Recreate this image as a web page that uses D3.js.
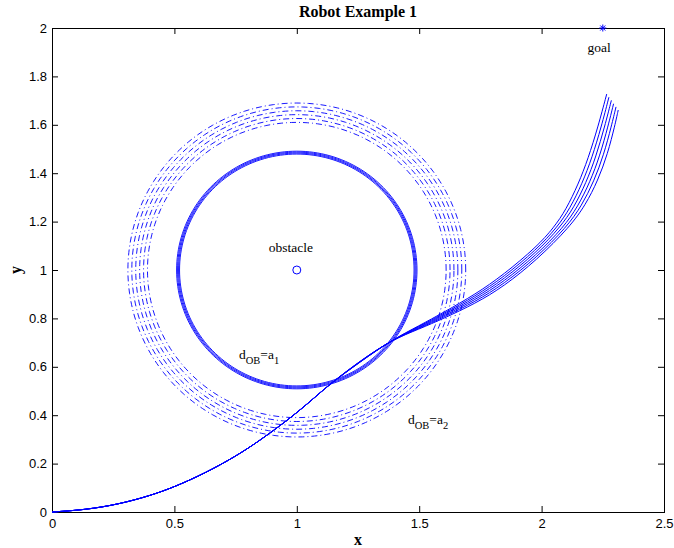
<!DOCTYPE html>
<html>
<head>
<meta charset="utf-8">
<script src="https://cdn.jsdelivr.net/npm/d3@7"></script>
<style>
  html, body { margin: 0; padding: 0; background: #fff; }
  svg { display: block; }
</style>
</head>
<body>
<svg id="chart" width="674" height="548"></svg>
<script>
// ---------- data ----------
const title = "Robot Example 1";
const xLabel = "x";
const yLabel = "y";
const xTicks = [0, 0.5, 1, 1.5, 2, 2.5];
const yTicks = [0, 0.2, 0.4, 0.6, 0.8, 1, 1.2, 1.4, 1.6, 1.8, 2];

const obstacle = [1, 1];
const goal = [2.25, 2];

// radii of the solid contours d_OB = a1
const innerRadii = [0.479, 0.483, 0.487, 0.491];
// radii of the dash-dot contours d_OB = a2
const outerRadii = [0.610, 0.626, 0.642, 0.658, 0.674, 0.690];

// common approach path from the origin
const approach = [[0, 0], [0.136, 0.009], [0.272, 0.032], [0.4, 0.067], [0.504, 0.105],
  [0.626, 0.161], [0.749, 0.229], [0.844, 0.292], [0.953, 0.372], [1.05, 0.452], [1.13, 0.525]];

const trajA = [[1.26, 0.621], [1.388, 0.711], [1.5, 0.77], [1.6, 0.825], [1.73, 0.9], [1.844, 0.98],
  [1.98, 1.096], [2.05, 1.175], [2.1, 1.25], [2.15, 1.355], [2.19, 1.46], [2.23, 1.59], [2.266, 1.727]];
const trajB = [[1.26, 0.622], [1.388, 0.711], [1.5, 0.7672], [1.6, 0.820], [1.73, 0.8924], [1.844, 0.9702],
  [1.98, 1.085], [2.063, 1.176], [2.116, 1.254], [2.166, 1.358], [2.206, 1.464], [2.244, 1.592], [2.275, 1.714]];
const trajC = [[1.26, 0.623], [1.388, 0.711], [1.5, 0.7644], [1.6, 0.815], [1.73, 0.8848], [1.844, 0.9604],
  [1.98, 1.074], [2.076, 1.177], [2.132, 1.258], [2.182, 1.361], [2.222, 1.468], [2.258, 1.594], [2.285, 1.701]];
const trajD = [[1.26, 0.624], [1.388, 0.711], [1.5, 0.7616], [1.6, 0.810], [1.73, 0.8772], [1.844, 0.9506],
  [1.98, 1.063], [2.090, 1.177], [2.148, 1.262], [2.198, 1.364], [2.238, 1.472], [2.272, 1.596], [2.294, 1.687]];
const trajE = [[1.26, 0.625], [1.388, 0.711], [1.5, 0.7588], [1.6, 0.805], [1.73, 0.8696], [1.844, 0.9408],
  [1.98, 1.052], [2.103, 1.178], [2.164, 1.266], [2.214, 1.367], [2.254, 1.476], [2.286, 1.598], [2.304, 1.674]];
const trajF = [[1.26, 0.626], [1.388, 0.711], [1.5, 0.756], [1.6, 0.80], [1.73, 0.862], [1.844, 0.931],
  [1.98, 1.041], [2.116, 1.179], [2.18, 1.27], [2.23, 1.37], [2.27, 1.48], [2.30, 1.6], [2.313, 1.661]];
const trajectories = [trajA, trajB, trajC, trajD, trajE, trajF];

const labels = [
  { text: "obstacle", x: 0.976, y: 1.074, anchor: "middle" },
  { text: "goal", x: 2.235, y: 1.90, anchor: "middle" }
];
const contourLabels = [
  { sub1: "OB", main: "=a", sub2: "1", x: 0.764, y: 0.631 },
  { sub1: "OB", main: "=a", sub2: "2", x: 1.454, y: 0.364 }
];

// ---------- layout ----------
const margin = { left: 52, right: 10, top: 28, bottom: 36 };
const W = 674, H = 548;
const svg = d3.select("#chart");
const x = d3.scaleLinear().domain([0, 2.5]).range([margin.left, W - margin.right]);
const y = d3.scaleLinear().domain([0, 2]).range([H - margin.bottom, margin.top]);
const blue = "#0000ff";
const tickFont = "'Liberation Sans', Arial, Helvetica, sans-serif";
const serif = "'Liberation Serif', 'Times New Roman', Times, serif";

// ---------- axes ----------
function styleAxis(g) {
  g.select(".domain").remove();
  g.selectAll(".tick line").attr("stroke", "#000").attr("stroke-width", 1);
  g.selectAll(".tick text").attr("fill", "#000").style("font-family", tickFont).style("font-size", "13px");
}
const bottom = y(0), topY = y(2), leftX = x(0), rightX = x(2.5);
svg.append("g").attr("transform", `translate(0,${bottom})`)
  .call(d3.axisBottom(x).tickValues(xTicks).tickSize(-6).tickPadding(7).tickFormat(d3.format("")))
  .call(styleAxis);
svg.append("g").attr("transform", `translate(0,${topY})`)
  .call(d3.axisTop(x).tickValues(xTicks).tickSize(-6).tickFormat(""))
  .call(styleAxis);
svg.append("g").attr("transform", `translate(${leftX},0)`)
  .call(d3.axisLeft(y).tickValues(yTicks).tickSize(-6).tickPadding(5).tickFormat(d3.format("")))
  .call(styleAxis);
svg.append("g").attr("transform", `translate(${rightX},0)`)
  .call(d3.axisRight(y).tickValues(yTicks).tickSize(-6).tickFormat(""))
  .call(styleAxis);

svg.append("rect")
  .attr("x", leftX).attr("y", topY)
  .attr("width", rightX - leftX).attr("height", bottom - topY)
  .attr("fill", "none").attr("stroke", "#000").attr("stroke-width", 1)
  .attr("shape-rendering", "crispEdges");

// ---------- contours ----------
const circleLine = d3.line().x(d => x(d[0])).y(d => y(d[1]));
function circlePts(r) {
  return d3.range(0, 361, 2).map(a => [obstacle[0] + r * Math.cos(a * Math.PI / 180),
                                        obstacle[1] + r * Math.sin(a * Math.PI / 180)]);
}
svg.append("g").selectAll("path").data(outerRadii).join("path")
  .attr("d", r => circleLine(circlePts(r)))
  .attr("fill", "none").attr("stroke", blue).attr("stroke-width", 0.9)
  .attr("stroke-dasharray", "6,3,1,3");
svg.append("g").selectAll("path").data(innerRadii).join("path")
  .attr("d", r => circleLine(circlePts(r)))
  .attr("fill", "none").attr("stroke", blue).attr("stroke-width", 0.9);

// ---------- trajectories ----------
const trajLine = d3.line().x(d => x(d[0])).y(d => y(d[1])).curve(d3.curveBasis);
svg.append("g").selectAll("path").data(trajectories).join("path")
  .attr("d", t => trajLine(approach.concat(t)))
  .attr("fill", "none").attr("stroke", blue).attr("stroke-width", 1);

// ---------- markers ----------
svg.append("circle").attr("cx", x(obstacle[0])).attr("cy", y(obstacle[1])).attr("r", 4)
  .attr("fill", "none").attr("stroke", blue).attr("stroke-width", 1);
const gx = x(goal[0]), gy = y(goal[1]), s = 3.5;
const star = svg.append("g").attr("stroke", blue).attr("stroke-width", 1);
[[0, 1], [1, 0], [0.72, 0.72], [0.72, -0.72]].forEach(([dx, dy]) => {
  star.append("line").attr("x1", gx - dx * s).attr("y1", gy - dy * s)
    .attr("x2", gx + dx * s).attr("y2", gy + dy * s);
});

// ---------- texts ----------
svg.selectAll("text.lbl").data(labels).join("text").attr("class", "lbl")
  .attr("x", d => x(d.x)).attr("y", d => y(d.y)).attr("text-anchor", d => d.anchor)
  .style("font-family", serif).style("font-size", "13.5px").attr("fill", "#000")
  .text(d => d.text);

contourLabels.forEach(c => {
  const t = svg.append("text").attr("x", x(c.x)).attr("y", y(c.y))
    .style("font-family", serif).style("font-size", "13.5px").attr("fill", "#000");
  t.append("tspan").text("d");
  t.append("tspan").attr("dy", 5).style("font-size", "10.5px").text(c.sub1);
  t.append("tspan").attr("dy", -5).text(c.main);
  t.append("tspan").attr("dy", 5).style("font-size", "10.5px").text(c.sub2);
});

svg.append("text").attr("x", (leftX + rightX) / 2).attr("y", 17).attr("text-anchor", "middle")
  .style("font-family", serif).style("font-size", "16px").style("font-weight", "bold")
  .text(title);
svg.append("text").attr("x", (leftX + rightX) / 2).attr("y", 545).attr("text-anchor", "middle")
  .style("font-family", serif).style("font-size", "16px").style("font-weight", "bold")
  .text(xLabel);
svg.append("text").attr("transform", `translate(21,${(topY + bottom) / 2}) rotate(-90)`)
  .attr("text-anchor", "middle")
  .style("font-family", serif).style("font-size", "16px").style("font-weight", "bold")
  .text(yLabel);
</script>
</body>
</html>
